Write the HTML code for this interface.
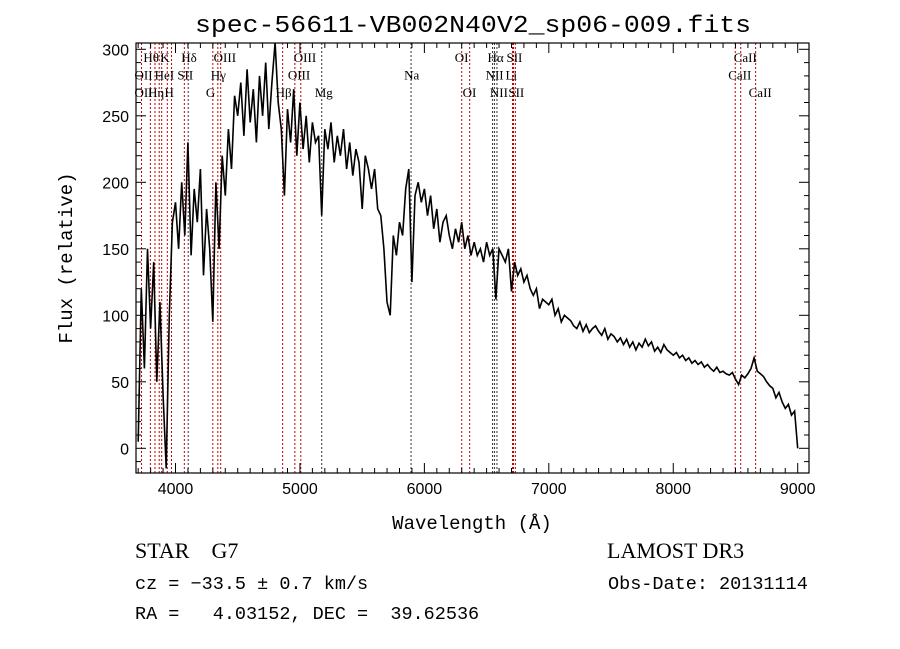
<!DOCTYPE html>
<html><head><meta charset="utf-8"><style>
body{margin:0;background:#fff;}
svg{display:block;}
text{font-family:"Liberation Serif",serif;fill:#000;}
.mono{font-family:"Liberation Mono",monospace;}
.sans{font-family:"Liberation Sans",sans-serif;}
</style></head><body>
<svg id="chart" width="900" height="649" viewBox="0 0 900 649" xmlns="http://www.w3.org/2000/svg">
<rect width="900" height="649" fill="#fff"/>
<text class="mono" x="473" y="32" font-size="24" text-anchor="middle" textLength="556" lengthAdjust="spacingAndGlyphs">spec-56611-VB002N40V2_sp06-009.fits</text>
<g id="lines"></g><g id="labels"></g><g id="axes"></g>
<path id="spec" fill="none" stroke="#000" stroke-width="1.6"/>
<rect x="136" y="43" width="673" height="430" fill="none" stroke="#000" stroke-width="1.2"/>
<text class="mono" x="472" y="529" font-size="19" text-anchor="middle">Wavelength (Å)</text>
<text class="mono" transform="translate(72,258) rotate(-90)" font-size="19" text-anchor="middle">Flux (relative)</text>
<text x="135" y="558" font-size="22" xml:space="preserve">STAR    G7</text>
<text x="607" y="558" font-size="22">LAMOST DR3</text>
<text class="mono" x="135" y="589" font-size="18.5" xml:space="preserve">cz = −33.5 ± 0.7 km/s</text>
<text class="mono" x="608" y="589" font-size="18.5">Obs-Date: 20131114</text>
<text class="mono" x="135" y="619" font-size="18.5" xml:space="preserve">RA =   4.03152, DEC =  39.62536</text>
</svg>
<script>
const wlStart = 3700, wlStep = 25;
const flux = [5,120,60,150,90,140,50,110,40,-15,100,170,
185,150,200,160,230,145,195,170,210,130,180,150,
95,200,150,220,190,240,210,265,
250,275,235,285,245,270,230,280,250,290,240,275,
305,260,240,190,255,230,270,220,
260,225,250,215,245,230,235,175,
240,225,245,215,235,220,240,210,
230,205,225,215,180,220,210,195,
210,180,175,150,110,100,160,145,
170,160,195,210,125,190,200,185,
195,175,190,165,180,155,170,175,
160,150,165,155,170,150,160,145,
155,145,150,140,155,145,150,112,
150,145,140,150,118,140,130,135,
125,130,120,115,120,105,112,110,
108,112,100,105,95,100,98,96,
92,90,95,88,93,87,90,92,
88,85,90,82,86,84,80,83,
78,82,76,80,74,79,76,82,
77,80,73,76,72,78,74,72,
70,72,68,70,66,68,64,66,
63,65,61,63,60,58,61,57,
58,56,55,57,52,48,55,53,
56,60,68,58,56,54,50,47,
45,38,42,35,30,33,25,28,
0];
const xTicks = [4000,5000,6000,7000,8000,9000];
const yTicks = [0,50,100,150,200,250,300];
const lineWl = [3727,3798,3835,3869,3889,3934,3968,4071,4102,4300,4340,4363,4861,4959,5007,5175,5893,6300,6364,6548,6563,6583,6708,6716,6731,8498,8542,8662];
const lineRed = [1,1,1,1,1,1,1,1,0,1,1,1,1,1,1,0,0,1,1,0,0,0,1,1,1,1,1,1];
const labelText = ["Hθ","K","Hδ","OIII","OIII","OI","Hα","SII","CaII","OII","HeI","SII","Hγ","OIII","Na","NII","Li","CaII","OII","Hη","H","G","Hβ","Mg","OI","NII","SII","CaII"];
const labelWl = [3798,3934,4102,4363,5007,6300,6563,6716,8542,3727,3889,4071,4340,4959,5893,6548,6708,8498,3727,3835,3968,4300,4861,5175,6364,6583,6731,8662];
const labelRow = [0,0,0,0,0,0,0,0,0,1,1,1,1,1,1,1,1,1,2,2,2,2,2,2,2,2,2,2];

const X0=136,X1=809,Y0=43,Y1=473;
const xs = w => 175.5 + (w-4000)*0.12444;
const ys = f => 448.3 - f*1.33;
const NS="http://www.w3.org/2000/svg";
function mk(tag,attrs,parent){const e=document.createElementNS(NS,tag);for(const k in attrs)e.setAttribute(k,attrs[k]);parent.appendChild(e);return e;}

const gl=document.getElementById('lines');
lineWl.forEach((w,i)=>{
  const l=mk('line',{x1:xs(w),x2:xs(w),y1:Y0,y2:Y1,stroke:lineRed[i]?'#c00000':'#333','stroke-width':1,'stroke-dasharray':'2,2'},gl);
  
  
});
const glab=document.getElementById('labels');
labelText.forEach((t,i)=>{
  const e=mk('text',{x:xs(labelWl[i])-7,y:62+labelRow[i]*17.5,'font-size':13},glab);
  e.textContent=t;
  
  
});
const ga=document.getElementById('axes');
for(let w=3700;w<=9000;w+=100){
  const maj=w%1000===0, len=maj?10:5;
  mk('line',{x1:xs(w),x2:xs(w),y1:Y1,y2:Y1-len,stroke:'#000'},ga);
  mk('line',{x1:xs(w),x2:xs(w),y1:Y0,y2:Y0+len,stroke:'#000'},ga);
}
xTicks.forEach(w=>{
  const e=mk('text',{x:xs(w),y:Y1+21,'font-size':16,'text-anchor':'middle',class:'sans'},ga);
  e.textContent=w;
  
  
});
for(let f=-10;f<=300;f+=10){
  const maj=f%50===0,len=maj?10:5;
  mk('line',{x1:X0,x2:X0+len,y1:ys(f),y2:ys(f),stroke:'#000'},ga);
  mk('line',{x1:X1,x2:X1-len,y1:ys(f),y2:ys(f),stroke:'#000'},ga);
}
yTicks.forEach(f=>{
  const e=mk('text',{x:X0-7,y:ys(f)+6,'font-size':16,'text-anchor':'end',class:'sans'},ga);
  e.textContent=f;
  
  
});
let d='';
flux.forEach((f,i)=>{const w=wlStart+i*wlStep;d+=(i?'L':'M')+xs(w).toFixed(1)+','+ys(f).toFixed(1);});
document.getElementById('spec').setAttribute('d',d);
</script>
</body></html>
